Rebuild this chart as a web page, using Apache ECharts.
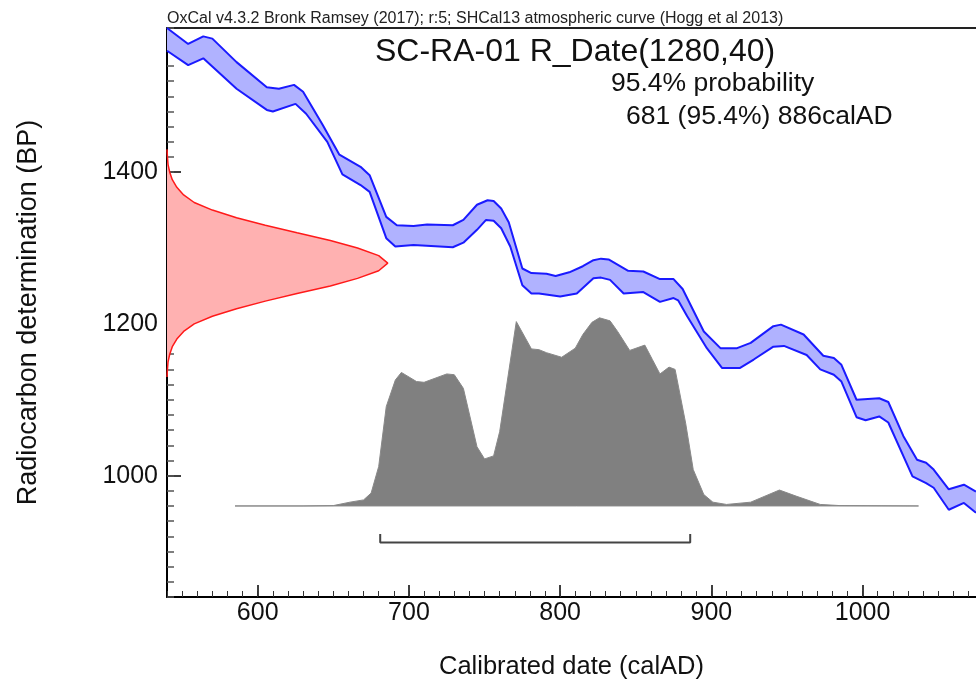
<!DOCTYPE html>
<html>
<head>
<meta charset="utf-8">
<script src="https://cdn.jsdelivr.net/npm/echarts@6/dist/echarts.min.js"></script>
<style>
  html, body { margin: 0; padding: 0; background: #fff; }
  #chart { width: 976px; height: 681px; }
</style>
</head>
<body>
<div id="chart"></div>
<script>
// calibration curve (SHCal13), upper and lower edge of the 1 sigma band
const curveUpperAD = [540, 554, 564, 570, 586, 606, 614, 624, 630, 643, 654, 668, 674, 685, 692, 703, 712, 729, 736, 745, 752, 756, 761, 766, 775, 781, 791, 797, 806, 815, 822, 827, 832, 845, 855, 866, 875, 881, 895, 906, 917, 926, 941, 946, 961, 974, 981, 986, 996, 1011, 1017, 1027, 1036, 1042, 1047, 1057, 1067, 1075]
const curveUpperBP = [1590, 1569, 1579, 1576, 1545, 1512, 1510, 1515, 1506, 1462, 1423, 1407, 1396, 1341, 1330, 1329, 1331, 1330, 1337, 1357, 1363, 1362, 1352, 1334, 1273, 1267, 1266, 1263, 1268, 1276, 1284, 1286, 1285, 1270, 1269, 1259, 1259, 1246, 1190, 1168, 1168, 1175, 1197, 1199, 1186, 1158, 1155, 1146, 1100, 1102, 1097, 1052, 1021, 1017, 1008, 982, 988, 979]
const curveLowerAD = [540, 554, 564, 586, 606, 610, 625, 632, 646, 656, 668, 674, 685, 691, 703, 729, 736, 745, 751, 756, 761, 767, 775, 781, 786, 800, 811, 822, 827, 833, 842, 855, 866, 875, 878, 884, 897, 907, 919, 928, 941, 948, 963, 972, 981, 986, 996, 1002, 1011, 1017, 1033, 1042, 1047, 1057, 1067, 1075]
const curveLowerBP = [1560, 1541, 1550, 1510, 1482, 1480, 1490, 1477, 1440, 1397, 1383, 1374, 1313, 1302, 1304, 1301, 1307, 1324, 1337, 1336, 1326, 1302, 1251, 1240, 1240, 1236, 1240, 1260, 1261, 1258, 1240, 1242, 1229, 1234, 1231, 1210, 1168, 1142, 1142, 1153, 1170, 1171, 1159, 1140, 1133, 1124, 1077, 1073, 1078, 1070, 999, 990, 984, 955, 964, 951]

// R_Date(1280,40) drawn against the y axis
const dateBP = [1430, 1420, 1410, 1400, 1390, 1380, 1370, 1360, 1350, 1340, 1330, 1320, 1310, 1300, 1290, 1280, 1270, 1260, 1250, 1240, 1230, 1220, 1210, 1200, 1190, 1180, 1170, 1160, 1150, 1140, 1130]
const dateAD = [540, 540.3, 540.7, 541.8, 543.5, 546.5, 551, 558, 570, 586, 605, 626, 648, 666, 680, 686, 680, 666, 648, 626, 605, 586, 570, 558, 551, 546.5, 543.5, 541.8, 540.7, 540.3, 540]

// calibrated probability (grey)
const probAD = [585, 630, 650, 661, 670, 675, 680, 685, 691, 695, 705, 710, 725, 730, 736, 745, 750, 756, 760, 771, 781, 786, 791, 801, 810, 815, 821, 826, 833, 838, 846, 856, 861, 866, 872, 876, 883, 888, 895, 901, 910, 926, 945, 956, 972, 985, 1037]
const probBP = [960, 960, 960.5, 965, 968, 977, 1012, 1091, 1126, 1136, 1124, 1123, 1134, 1133, 1115, 1038, 1022, 1026, 1058, 1203, 1167, 1166, 1162, 1156, 1168, 1186, 1202, 1208, 1204, 1190, 1165, 1172, 1153, 1134, 1143, 1140, 1069, 1008, 975, 965, 962, 965, 981, 973, 962, 960.5, 960]

// 95.4% range
const rangeAD = [681, 886]
const rangeBP = 912
const rangeCapBP = 923

const xTicks = [600, 700, 800, 900, 1000]
const yTicks = [1000, 1200, 1400]

const font = 'Liberation Sans, Arial, sans-serif'

function pts(xs, ys) {
    return xs.map((x, i) => [x, ys[i]])
}

function area(points, fill, z, stroke) {
    return {
        type: 'custom',
        clip: true,
        silent: true,
        z: z,
        data: [[points[0][0], points[0][1]]],
        renderItem: (params, api) => ({
            type: 'polygon',
            shape: { points: points.map(p => api.coord(p)) },
            style: { fill: fill, stroke: stroke || null, lineWidth: 1 }
        })
    }
}

function line(data, color, width, z) {
    return {
        type: 'line',
        data: data,
        showSymbol: false,
        silent: true,
        z: z,
        lineStyle: { color: color, width: width },
        animation: false
    }
}

const upper = pts(curveUpperAD, curveUpperBP)
const lower = pts(curveLowerAD, curveLowerBP)
const band = upper.concat(lower.slice().reverse())
const redCurve = pts(dateAD, dateBP)
const grey = pts(probAD, probBP)
const bracket = [[rangeAD[0], rangeCapBP], [rangeAD[0], rangeBP], [rangeAD[1], rangeBP], [rangeAD[1], rangeCapBP]]

const chart = echarts.init(document.getElementById('chart'))
const option = {
    animation: false,
    grid: { left: 167, right: 0, top: 28, bottom: 84, containLabel: false, outerBoundsMode: 'none' },
    xAxis: [
        {
            type: 'value', min: 540, max: 1075, position: 'bottom',
            name: 'Calibrated date (calAD)', nameLocation: 'middle', nameGap: 57,
            nameTextStyle: { fontFamily: font, fontSize: 25.5, color: '#111' },
            axisLine: { show: true, onZero: false, lineStyle: { color: '#000', width: 2 } },
            axisTick: { show: true, inside: true, length: 12, customValues: xTicks, lineStyle: { color: '#000', width: 1.5 } },
            axisLabel: { customValues: xTicks, formatter: v => String(v), fontFamily: font, fontSize: 25, color: '#111', margin: 4 },
            splitLine: { show: false }
        },
        {
            type: 'value', min: 540, max: 1075, interval: 10, position: 'bottom',
            axisLine: { show: false },
            axisTick: { show: true, inside: true, length: 6, lineStyle: { color: '#333', width: 1 } },
            axisLabel: { show: false },
            splitLine: { show: false }
        },
        {
            type: 'value', min: 540, max: 1075, position: 'top',
            axisLine: { show: true, onZero: false, lineStyle: { color: '#222', width: 2 } },
            axisTick: { show: false },
            axisLabel: { show: false },
            splitLine: { show: false }
        }
    ],
    yAxis: [
        {
            type: 'value', min: 840, max: 1590, position: 'left',
            name: 'Radiocarbon determination (BP)', nameLocation: 'middle', nameGap: 125,
            nameTextStyle: { fontFamily: font, fontSize: 27, color: '#111' },
            axisLine: { show: true, onZero: false, lineStyle: { color: '#000', width: 2 } },
            axisTick: { show: true, inside: true, length: 14, customValues: yTicks, lineStyle: { color: '#000', width: 1.5 } },
            axisLabel: { customValues: yTicks, formatter: v => String(v), fontFamily: font, fontSize: 25, color: '#111', margin: 9 },
            splitLine: { show: false }
        },
        {
            type: 'value', min: 840, max: 1590, interval: 20, position: 'left',
            axisLine: { show: false },
            axisTick: { show: true, inside: true, length: 7, lineStyle: { color: '#555', width: 1.5 } },
            axisLabel: { show: false },
            splitLine: { show: false }
        }
    ],
    graphic: [
        { type: 'text', x: 167, y: 19, style: { text: 'OxCal v4.3.2 Bronk Ramsey (2017); r:5; SHCal13 atmospheric curve (Hogg et al 2013)', font: '16px ' + font, fill: '#222', textVerticalAlign: 'middle' } },
        { type: 'text', x: 375, y: 52, style: { text: 'SC-RA-01 R_Date(1280,40)', font: '32px ' + font, fill: '#111', textVerticalAlign: 'middle' } },
        { type: 'text', x: 611, y: 84, style: { text: '95.4% probability', font: '26.5px ' + font, fill: '#111', textVerticalAlign: 'middle' } },
        { type: 'text', x: 626, y: 117, style: { text: '681 (95.4%) 886calAD', font: '26.5px ' + font, fill: '#111', textVerticalAlign: 'middle' } }
    ],
    series: [
        area(band, '#b0b2ff', 2),
        line(upper, '#1a1aff', 2, 3),
        line(lower, '#1a1aff', 2, 3),
        area(grey, '#808080', 2, '#888'),
        area(redCurve, '#ffb1b1', 4),
        line(redCurve, '#ff1a1a', 1.5, 5),
        line(bracket, '#444', 2, 3)
    ]
}
chart.setOption(option)
window.addEventListener('resize', function() {
    chart.resize()
})
</script>
</body>
</html>
